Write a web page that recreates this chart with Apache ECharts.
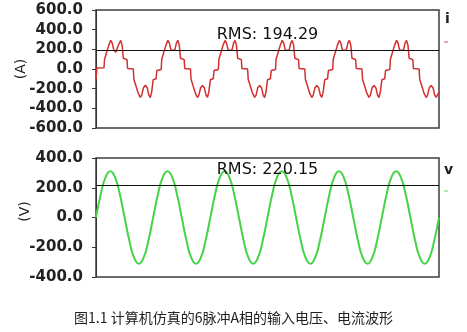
<!DOCTYPE html>
<html>
<head>
<meta charset="utf-8">
<script src="https://cdn.jsdelivr.net/npm/echarts@6/dist/echarts.min.js"></script>
<style>
html,body{margin:0;padding:0;background:#fff;}
#chart{width:467px;height:332px;}
</style>
</head>
<body>
<div id="chart"></div>
<script>
// Time axis in ms (6 cycles of 50 Hz)
var timeRange = [0, 120];

// Phase A input current (A): [time ms, value]
var currentPoints = [
  [0,-110],[0.3,10],[2.8,12],[3.0,100],[3.6,118],[4.5,245],[5.15,292],[5.65,266],[6.25,192],[6.9,170],[7.55,190],[8.15,264],[8.65,290],[9.15,240],[9.55,110],[10.85,95],[11.05,5],[13.05,0],[13.25,-105],[13.85,-120],[14.75,-245],[15.5,-288],[16.0,-265],[16.6,-190],[17.25,-166],[17.9,-190],[18.5,-265],[19.0,-290],[19.5,-230],
  [20,-110],[21,-100],[21.3,-15],[22.8,-5],[23,100],[23.6,115],[24.5,245],[25.15,291],[25.65,265],[26.25,190],[26.9,172],[27.55,190],[28.15,265],[28.65,292],[29.15,240],[29.55,110],[30.85,95],[31.05,5],[33.05,0],[33.25,-105],[33.85,-120],[34.75,-245],[35.5,-290],[36,-265],[36.6,-190],[37.25,-168],[37.9,-190],[38.5,-265],[39,-289],[39.5,-230],
  [40,-110],[41,-100],[41.3,-15],[42.8,-5],[43,100],[43.6,115],[44.5,245],[45.15,290],[45.65,265],[46.25,190],[46.9,170],[47.55,190],[48.15,265],[48.65,291],[49.15,240],[49.55,110],[50.85,95],[51.05,5],[53.05,0],[53.25,-105],[53.85,-120],[54.75,-245],[55.5,-289],[56,-265],[56.6,-190],[57.25,-167],[57.9,-190],[58.5,-265],[59,-290],[59.5,-230],
  [60,-110],[61,-100],[61.3,-15],[62.8,-5],[63,100],[63.6,115],[64.5,245],[65.15,292],[65.65,265],[66.25,190],[66.9,171],[67.55,190],[68.15,265],[68.65,290],[69.15,240],[69.55,110],[70.85,95],[71.05,5],[73.05,0],[73.25,-105],[73.85,-120],[74.75,-245],[75.5,-290],[76,-265],[76.6,-190],[77.25,-168],[77.9,-190],[78.5,-265],[79,-288],[79.5,-230],
  [80,-110],[81,-100],[81.3,-15],[82.8,-5],[83,100],[83.6,115],[84.5,245],[85.15,290],[85.65,265],[86.25,190],[86.9,170],[87.55,190],[88.15,265],[88.65,292],[89.15,240],[89.55,110],[90.85,95],[91.05,5],[93.05,0],[93.25,-105],[93.85,-120],[94.75,-245],[95.5,-289],[96,-265],[96.6,-190],[97.25,-167],[97.9,-190],[98.5,-265],[99,-290],[99.5,-230],
  [100,-110],[101,-100],[101.3,-15],[102.8,-5],[103,100],[103.6,115],[104.5,245],[105.15,291],[105.65,265],[106.25,190],[106.9,172],[107.55,190],[108.15,265],[108.65,290],[109.15,240],[109.55,110],[110.85,95],[111.05,5],[113.05,0],[113.25,-105],[113.85,-120],[114.75,-245],[115.5,-290],[116,-265],[116.6,-190],[117.25,-168],[117.9,-190],[118.5,-265],[119,-289],[120,-235]
];

// Phase A input voltage (V): [time ms, value]
var voltagePoints = [
  [0,0],[1.67,156],[3.33,270],[5,311],[6.67,270],[8.33,156],[10,0],[11.67,-156],[13.33,-270],[15,-311],[16.67,-270],[18.33,-156],
  [20,0],[21.67,156],[23.33,270],[25,311],[26.67,270],[28.33,156],[30,0],[31.67,-156],[33.33,-270],[35,-311],[36.67,-270],[38.33,-156],
  [40,0],[41.67,156],[43.33,270],[45,311],[46.67,270],[48.33,156],[50,0],[51.67,-156],[53.33,-270],[55,-311],[56.67,-270],[58.33,-156],
  [60,0],[61.67,156],[63.33,270],[65,311],[66.67,270],[68.33,156],[70,0],[71.67,-156],[73.33,-270],[75,-311],[76.67,-270],[78.33,-156],
  [80,0],[81.67,156],[83.33,270],[85,311],[86.67,270],[88.33,156],[90,0],[91.67,-156],[93.33,-270],[95,-311],[96.67,-270],[98.33,-156],
  [100,0],[101.67,156],[103.33,270],[105,311],[106.67,270],[108.33,156],[110,0],[111.67,-156],[113.33,-270],[115,-311],[116.67,-270],[118.33,-156],
  [120,0]
];

var rmsValues = [194.29, 220.15];
var currentTicks = [-600, -400, -200, 0, 200, 400, 600];
var voltageTicks = [-400, -200, 0, 200, 400];
var axisNames = ['(A)', '(V)'];
var legendNames = ['i', 'v'];
var captionText = '图1.1 计算机仿真的6脉冲A相的输入电压、电流波形';

var FONT = 'DejaVu Sans';
function yAxisFor(ticks, gridIndex, name, gap, pad) {
  return {
    type: 'value', gridIndex: gridIndex,
    min: ticks[0], max: ticks[ticks.length - 1], interval: ticks[1] - ticks[0],
    position: 'left', offset: 8,
    name: name, nameLocation: 'middle', nameRotate: 90, nameGap: gap,
    nameMoveOverlap: false,
    nameTextStyle: { fontFamily: FONT, fontSize: 14, color: '#222', padding: pad },
    axisLine: { show: true, lineStyle: { color: '#333', width: 1 } },
    axisTick: { show: true, length: 4, lineStyle: { color: '#333' } },
    axisLabel: { fontFamily: FONT, fontSize: 15, fontWeight: 'bold', color: '#222', margin: 5,
      formatter: function (v) { return v.toFixed(1); } },
    splitLine: { show: false }
  };
}
function rmsLine(v) {
  return {
    silent: true, symbol: ['none', 'none'], animation: false,
    lineStyle: { color: '#111', type: 'solid', width: 1 },
    label: { show: true, position: 'insideMiddleTop', distance: 7,
      formatter: 'RMS: ' + v.toFixed(2),
      fontFamily: FONT, fontSize: 16, color: '#111' },
    data: [{ yAxis: v }]
  };
}

var chart = echarts.init(document.getElementById('chart'), null, { renderer: 'canvas' });
chart.setOption({
  animation: false,
  backgroundColor: '#fff',
  title: {
    text: captionText, left: 'center', top: 311, padding: 0,
    textStyle: { fontFamily: 'Noto Sans CJK SC', fontSize: 14, fontWeight: 'normal', color: '#222' }
  },
  grid: [
    { left: 96, right: 28, top: 10, height: 118, show: true, borderColor: '#3c3c3c', borderWidth: 1.5, backgroundColor: 'transparent' },
    { left: 96, right: 28, top: 158, height: 119, show: true, borderColor: '#3c3c3c', borderWidth: 1.5, backgroundColor: 'transparent' }
  ],
  xAxis: [
    { type: 'value', gridIndex: 0, min: timeRange[0], max: timeRange[1], show: false },
    { type: 'value', gridIndex: 1, min: timeRange[0], max: timeRange[1], show: false }
  ],
  yAxis: [
    yAxisFor(currentTicks, 0, axisNames[0], 60, [0, 0, 0, 0]),
    yAxisFor(voltageTicks, 1, axisNames[1], 56, [0, 0, 0, 12])
  ],
  graphic: [
    { type: 'text', left: 445, top: 12, style: { text: legendNames[0], font: 'bold 14px "DejaVu Sans"', fill: '#222' } },
    { type: 'line', shape: { x1: 444, y1: 42, x2: 448, y2: 42 }, style: { stroke: '#b55', lineWidth: 1 } },
    { type: 'text', left: 444, top: 163, style: { text: legendNames[1], font: 'bold 14px "DejaVu Sans"', fill: '#222' } },
    { type: 'line', shape: { x1: 444, y1: 191, x2: 448, y2: 191 }, style: { stroke: '#6c6', lineWidth: 1 } }
  ],
  series: [
    {
      name: legendNames[0], type: 'line', xAxisIndex: 0, yAxisIndex: 0,
      data: currentPoints, showSymbol: false, symbol: 'none',
      lineStyle: { color: '#d42f2f', width: 1.5 },
      markLine: rmsLine(rmsValues[0])
    },
    {
      name: legendNames[1], type: 'line', xAxisIndex: 1, yAxisIndex: 1,
      data: voltagePoints, showSymbol: false, symbol: 'none', smooth: true,
      lineStyle: { color: '#45d445', width: 2 },
      markLine: rmsLine(rmsValues[1])
    }
  ]
});
</script>
</body>
</html>
